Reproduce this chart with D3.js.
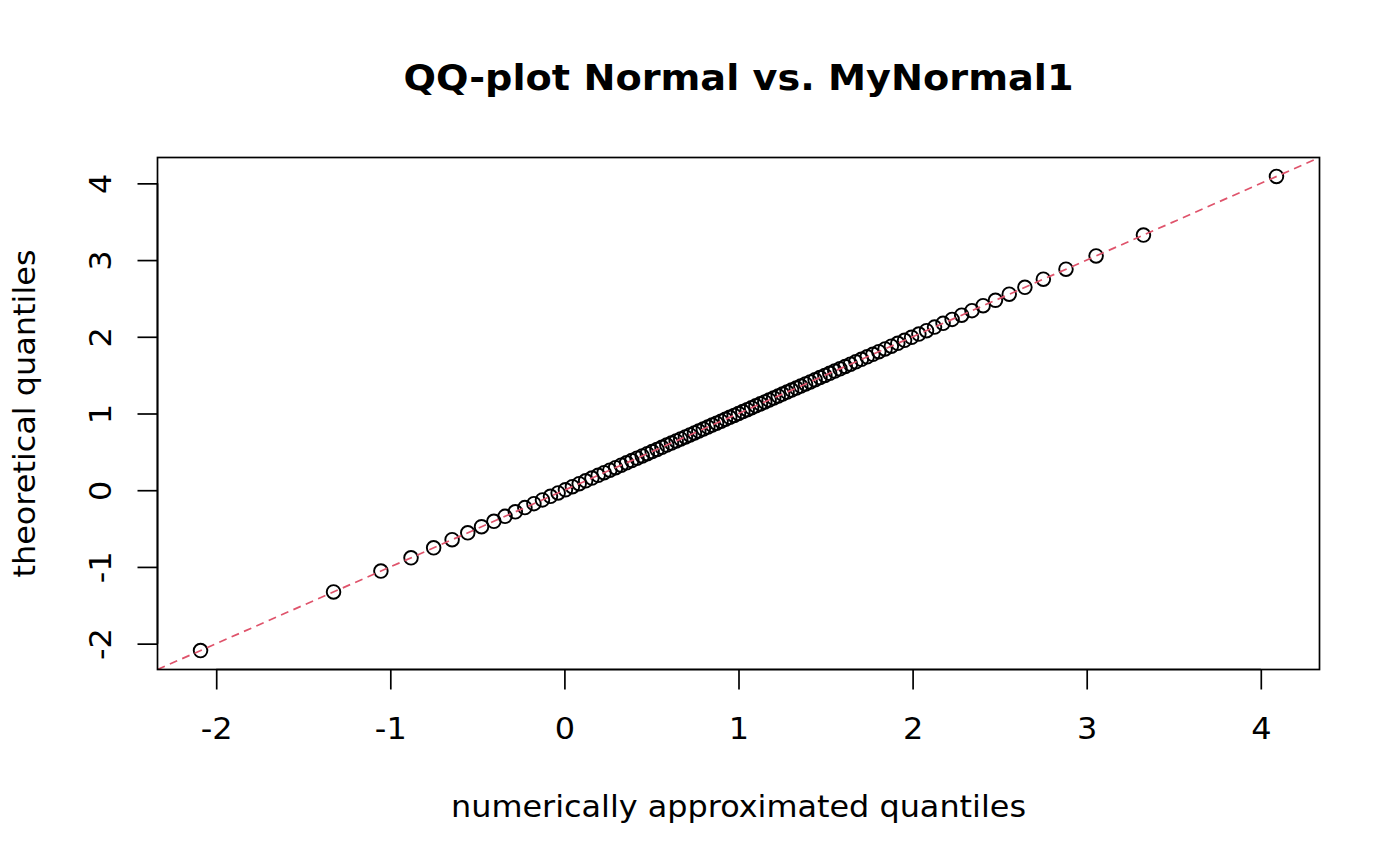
<!DOCTYPE html>
<html>
<head>
<meta charset="utf-8">
<script src="https://cdn.jsdelivr.net/npm/d3@7"></script>
<style>
  html, body { margin: 0; padding: 0; background: #fff; }
  text { font-family: "DejaVu Sans", sans-serif; fill: #000; }
</style>
</head>
<body>
<svg id="chart" width="1400" height="866"></svg>
<script>
// numerically approximated quantiles (x) and theoretical quantiles (y)
const approxQuantiles = [
  -2.090, -1.326, -1.054, -0.881, -0.751, -0.645, -0.555, -0.476, -0.405, -0.341,
  -0.282, -0.227, -0.175, -0.126, -0.080, -0.036, 0.006, 0.046, 0.085, 0.122,
  0.158, 0.194, 0.228, 0.261, 0.294, 0.326, 0.357, 0.387, 0.417, 0.447,
  0.476, 0.504, 0.532, 0.560, 0.588, 0.615, 0.642, 0.668, 0.695, 0.721,
  0.747, 0.772, 0.798, 0.824, 0.849, 0.874, 0.900, 0.925, 0.950, 0.975,
  1.000, 1.025, 1.050, 1.075, 1.100, 1.126, 1.151, 1.176, 1.202, 1.228,
  1.253, 1.279, 1.305, 1.332, 1.358, 1.385, 1.412, 1.440, 1.468, 1.496,
  1.524, 1.553, 1.583, 1.613, 1.643, 1.674, 1.706, 1.739, 1.772, 1.806,
  1.842, 1.878, 1.915, 1.954, 1.994, 2.036, 2.080, 2.126, 2.175, 2.227,
  2.282, 2.341, 2.405, 2.476, 2.555, 2.645, 2.751, 2.881, 3.054, 3.326,
  4.090
];
const theoreticalQuantiles = [
  -2.090, -1.326, -1.054, -0.881, -0.751, -0.645, -0.555, -0.476, -0.405, -0.341,
  -0.282, -0.227, -0.175, -0.126, -0.080, -0.036, 0.006, 0.046, 0.085, 0.122,
  0.158, 0.194, 0.228, 0.261, 0.294, 0.326, 0.357, 0.387, 0.417, 0.447,
  0.476, 0.504, 0.532, 0.560, 0.588, 0.615, 0.642, 0.668, 0.695, 0.721,
  0.747, 0.772, 0.798, 0.824, 0.849, 0.874, 0.900, 0.925, 0.950, 0.975,
  1.000, 1.025, 1.050, 1.075, 1.100, 1.126, 1.151, 1.176, 1.202, 1.228,
  1.253, 1.279, 1.305, 1.332, 1.358, 1.385, 1.412, 1.440, 1.468, 1.496,
  1.524, 1.553, 1.583, 1.613, 1.643, 1.674, 1.706, 1.739, 1.772, 1.806,
  1.842, 1.878, 1.915, 1.954, 1.994, 2.036, 2.080, 2.126, 2.175, 2.227,
  2.282, 2.341, 2.405, 2.476, 2.555, 2.645, 2.751, 2.881, 3.054, 3.326,
  4.090
];
const xTicks = [-2, -1, 0, 1, 2, 3, 4];
const yTicks = [-2, -1, 0, 1, 2, 3, 4];
const refLine = { intercept: 0, slope: 1 };
const titleText = "QQ-plot Normal vs. MyNormal1";
const xLabel = "numerically approximated quantiles";
const yLabel = "theoretical quantiles";

const svg = d3.select("#chart");
const plot = { left: 157.5, right: 1319.5, top: 157.5, bottom: 669.5 };
const cx = (plot.left + plot.right) / 2, cy = (plot.top + plot.bottom) / 2;

function padded(arr) {
  const [lo, hi] = d3.extent(arr);
  const p = (hi - lo) * 0.04;
  return [lo - p, hi + p];
}
const xDom = padded(approxQuantiles);
const yDom = padded(theoreticalQuantiles);
const x = d3.scaleLinear().domain(xDom).range([plot.left, plot.right]);
const y = d3.scaleLinear().domain(yDom).range([plot.bottom, plot.top]);

svg.append("defs").append("clipPath").attr("id", "clip")
  .append("rect")
  .attr("x", plot.left).attr("y", plot.top)
  .attr("width", plot.right - plot.left).attr("height", plot.bottom - plot.top);

// points
const pts = approxQuantiles.map((v, i) => [v, theoreticalQuantiles[i]]);
svg.append("g").selectAll("circle").data(pts).join("circle")
  .attr("cx", d => x(d[0])).attr("cy", d => y(d[1]))
  .attr("r", 6.8)
  .attr("fill", "none").attr("stroke", "#000").attr("stroke-width", 1.9);

// reference line y = a + b x
svg.append("line")
  .attr("clip-path", "url(#clip)")
  .attr("x1", x(xDom[0])).attr("y1", y(refLine.intercept + refLine.slope * xDom[0]))
  .attr("x2", x(xDom[1])).attr("y2", y(refLine.intercept + refLine.slope * xDom[1]))
  .attr("stroke", "#DF536B").attr("stroke-width", 1.7)
  .attr("stroke-dasharray", "8,5.5");

// box
svg.append("rect")
  .attr("x", plot.left).attr("y", plot.top)
  .attr("width", plot.right - plot.left).attr("height", plot.bottom - plot.top)
  .attr("fill", "none").attr("stroke", "#000").attr("stroke-width", 1.7);

const fs = 30;
const fmt = d => d < 0 ? "-" + Math.abs(d) : String(d);
// x axis
const xAxis = d3.axisBottom(x).tickValues(xTicks).tickSize(20).tickSizeOuter(0);
const gx = svg.append("g").attr("transform", `translate(0,${plot.bottom})`).call(xAxis);
gx.select(".domain").attr("d", `M${x(xTicks[0])},0H${x(xTicks[xTicks.length-1])}`).attr("stroke-width", 1.7);
gx.selectAll(".tick line").attr("stroke-width", 1.7);
gx.selectAll("text").attr("font-size", fs).attr("font-family", "DejaVu Sans")
  .attr("x", null).attr("y", null).attr("dy", null)
  .attr("transform", "translate(0,69.5) scale(1.065,1)")
  .text(fmt);

// y axis
const yAxis = d3.axisLeft(y).tickValues(yTicks).tickSize(20).tickSizeOuter(0);
const gy = svg.append("g").attr("transform", `translate(${plot.left},0)`).call(yAxis);
gy.select(".domain").attr("d", `M0,${y(yTicks[0])}V${y(yTicks[yTicks.length-1])}`).attr("stroke-width", 1.7);
gy.selectAll(".tick line").attr("stroke-width", 1.7);
gy.selectAll("text")
  .attr("font-size", fs).attr("font-family", "DejaVu Sans")
  .attr("x", null).attr("dy", null).attr("y", null)
  .attr("text-anchor", "middle")
  .attr("transform", `translate(${111 - plot.left},0) rotate(-90) scale(1.065,1)`)
  .text(fmt);

// title
svg.append("text").attr("x", cx).attr("y", 90)
  .attr("text-anchor", "middle").attr("font-size", 36).attr("font-weight", "bold")
  .attr("textLength", 670).attr("lengthAdjust", "spacingAndGlyphs")
  .text(titleText);

// x label
svg.append("text").attr("x", cx).attr("y", 817)
  .attr("text-anchor", "middle").attr("font-size", fs)
  .attr("textLength", 575).attr("lengthAdjust", "spacingAndGlyphs")
  .text(xLabel);

// y label
svg.append("text")
  .attr("transform", `translate(35,${cy}) rotate(-90)`)
  .attr("text-anchor", "middle").attr("font-size", fs)
  .attr("textLength", 328).attr("lengthAdjust", "spacingAndGlyphs")
  .text(yLabel);
</script>
</body>
</html>
